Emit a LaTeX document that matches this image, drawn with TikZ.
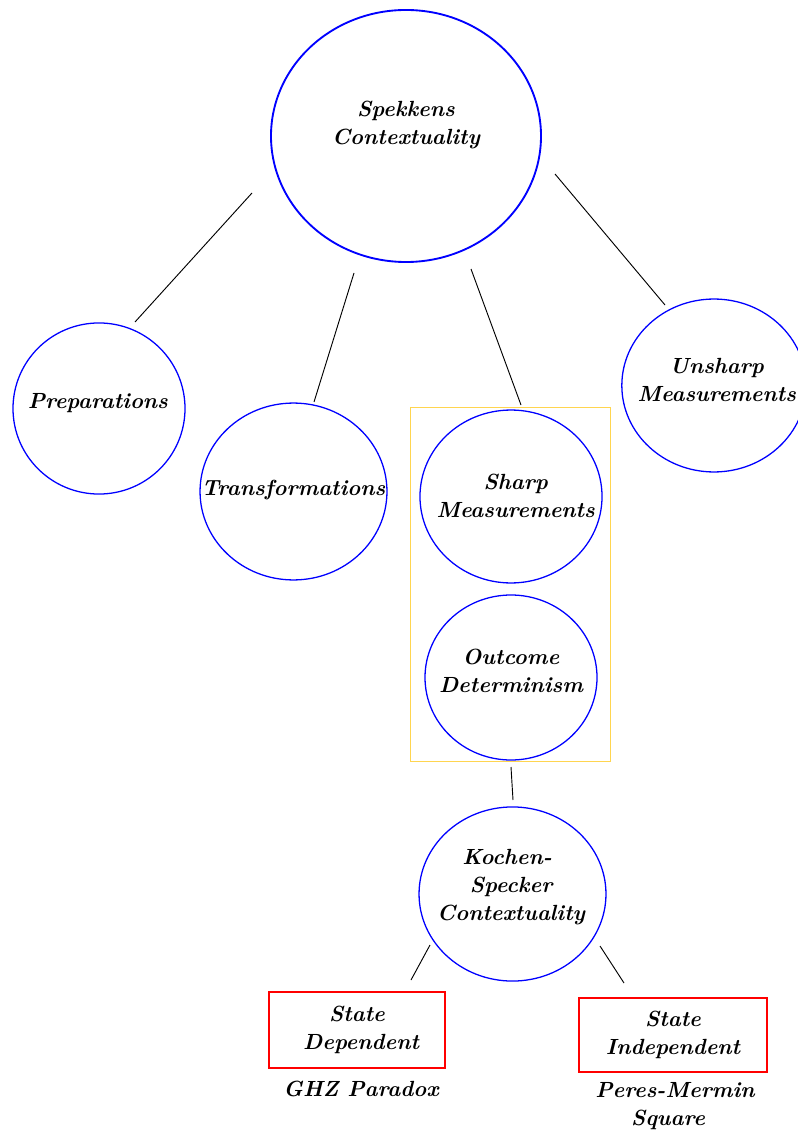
\documentclass[tikz,border=0pt]{standalone}
\usepackage{fontspec}
\usetikzlibrary{shapes.geometric}
\definecolor{boxyellow}{HTML}{FFD54F}
\begin{document}
\begin{tikzpicture}[x=0.4285pt,y=-0.4285pt,
  circ/.style={ellipse, draw=blue, line width=0.55pt, inner sep=0pt},
  txt/.style={font=\fontsize{9.4}{12}\selectfont\bfseries\itshape, align=center},
  conn/.style={draw=black, line width=0.4pt},
  redbox/.style={rectangle, draw=red, line width=0.65pt, inner sep=0pt, font=\fontsize{9.4}{12}\selectfont\bfseries\itshape, align=center},
  grpbox/.style={rectangle, draw=boxyellow, line width=0.45pt, inner sep=0pt}]
\useasboundingbox (0,0) rectangle (797,1130);

% group box
\node[grpbox, minimum width=85.3pt, minimum height=151.3pt] (grp) at (510.5,584.5) {};

% ellipses
\node[circ, line width=0.8pt, minimum width=115.7pt, minimum height=108pt,
  label={[txt,yshift=4.9pt]center:Spekkens\\Contextuality}] (spek) at (406,136) {};
\node[circ, minimum width=73.7pt, minimum height=73.3pt,
  label={[txt,yshift=2.4pt,xshift=-0.5pt]center:Preparations}] (prep) at (99,408.5) {};
\node[circ, minimum width=80.1pt, minimum height=75.8pt,
  label={[txt,yshift=0.6pt]center:Transformations}] (trans) at (293.5,491.5) {};
\node[circ, minimum width=78pt, minimum height=74.1pt,
  label={[txt,xshift=2pt,yshift=0.3pt]center:Sharp\\Measurements}] (sharp) at (511,496.5) {};
\node[circ, minimum width=73.7pt, minimum height=70.7pt,
  label={[txt,yshift=2.8pt]center:Outcome\\Determinism}] (outc) at (511,677.5) {};
\node[circ, minimum width=79pt, minimum height=74.1pt,
  label={[txt,yshift=2.3pt,xshift=1.2pt]center:Unsharp\\Measurements}] (unsharp) at (714,385.5) {};
\node[circ, minimum width=80.1pt, minimum height=74.6pt,
  label={[txt,yshift=2.8pt,xshift=-0.6pt]center:Kochen-\hspace*{3.4pt}\\Specker\hspace*{6.9pt}\\Contextuality}] (ks) at (512.5,894) {};

% boxes
\node[redbox, minimum width=75.4pt, minimum height=32.6pt] (sd) at (357,1030) {State\\\hspace*{3.5pt}Dependent};
\node[redbox, minimum width=80.6pt, minimum height=31.7pt] (si) at (673,1035) {State\\Independent};
\node[txt] (ghz) at (361,1089) {GHZ Paradox};
\node[txt] (pms) at (675,1106) {Peres-Mermin\\Square\hspace*{6pt}};

% connector end points
\coordinate (a1) at (252,193);   \coordinate (b1) at (135,322);
\coordinate (a2) at (354,273);   \coordinate (b2) at (314,402);
\coordinate (a3) at (471,269);   \coordinate (b3) at (521,405);
\coordinate (a4) at (555,174);   \coordinate (b4) at (665,305);
\coordinate (a5) at (511,767);   \coordinate (b5) at (513,800);
\coordinate (a6) at (430,945);   \coordinate (b6) at (411,980);
\coordinate (a7) at (600,946);   \coordinate (b7) at (624,983);

\draw[conn] (a1) -- (b1);
\draw[conn] (a2) -- (b2);
\draw[conn] (a3) -- (b3);
\draw[conn] (a4) -- (b4);
\draw[conn] (a5) -- (b5);
\draw[conn] (a6) -- (b6);
\draw[conn] (a7) -- (b7);
\end{tikzpicture}
\end{document}
